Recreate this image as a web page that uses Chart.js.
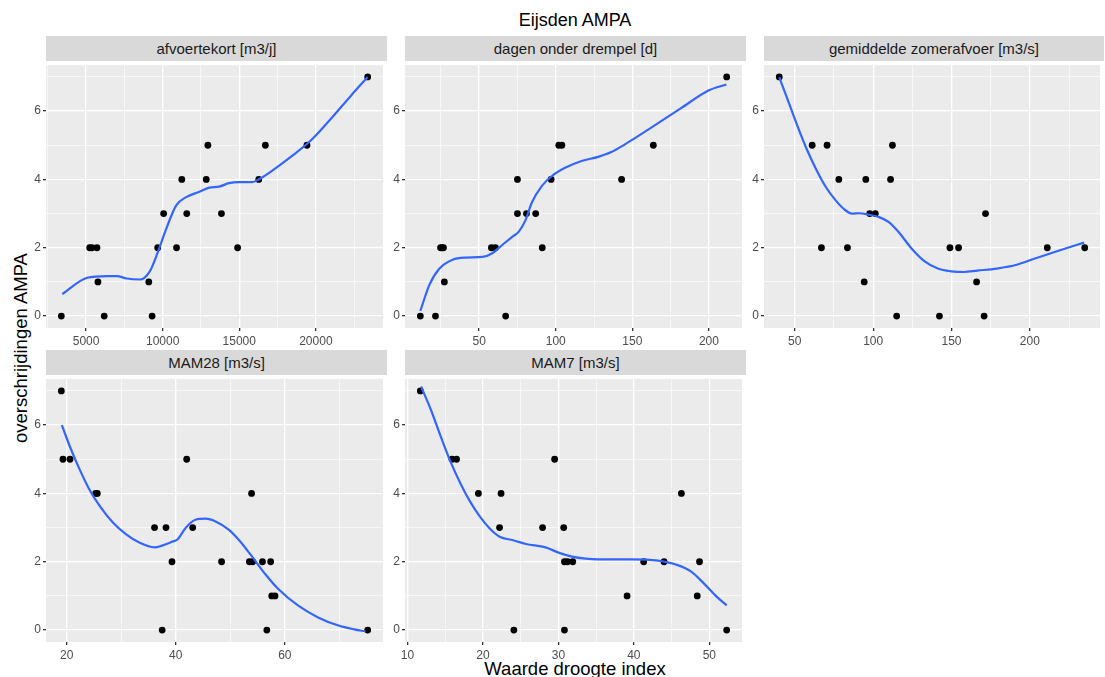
<!DOCTYPE html>
<html>
<head>
<meta charset="utf-8">
<script src="https://cdn.jsdelivr.net/npm/chart.js@4.4.1/dist/chart.umd.min.js"></script>
<style>
  body { margin: 0; background: #fff; width: 1105px; height: 677px; position: relative; overflow: hidden;
         font-family: "Liberation Sans", Arial, sans-serif; }
  canvas { position: absolute; }
  .strip { position: absolute; background: #d9d9d9; color: #1a1a1a; font-size: 15px;
           text-align: center; height: 25px; line-height: 25px; }
  .lbl { position: absolute; text-align: center; color: #000; line-height: 20px; white-space: nowrap; }
</style>
</head>
<body>
<div class="lbl" style="top:10px;left:46px;width:1058px;font-size:18px">Eijsden AMPA</div>
<div class="lbl" style="top:659px;left:46px;width:1058px;font-size:18.5px">Waarde droogte index</div>
<div class="lbl" style="left:-89px;top:338px;width:220px;font-size:18.5px;transform:rotate(-90deg)">overschrijdingen AMPA</div>

<script>
// afvoertekort [m3/j]
const afvoerX = [3384, 5237, 5388, 5711, 5776, 6185, 9094, 9310, 9676, 10064, 10905, 11250, 11573, 12844, 12952, 13836, 14891, 16271, 16702, 19417, 23382];
const afvoerY = [0, 2, 2, 2, 1, 0, 1, 0, 2, 3, 2, 4, 3, 4, 5, 3, 2, 4, 5, 5, 7];
const afvoerFitX = [3448, 5065, 6358, 7004, 7651, 8513, 9159, 9698, 10237, 10883, 11530, 12392, 13038, 13684, 14330, 14977, 15839, 16270, 17132, 18425, 19718, 21011, 22304, 23382];
const afvoerFitY = [0.64, 1.12, 1.17, 1.17, 1.10, 1.07, 1.31, 1.89, 2.56, 3.24, 3.48, 3.64, 3.76, 3.79, 3.89, 3.92, 3.92, 4.0, 4.25, 4.68, 5.16, 5.79, 6.46, 7.0];
const afvoerTicks = [5000, 10000, 15000, 20000];

// dagen onder drempel [d]
const dagenX = [11.6, 21.5, 24.8, 25.8, 26.7, 27.3, 58.0, 60.6, 67.3, 75.0, 75.0, 80.9, 86.9, 91.2, 97.0, 102.0, 104.0, 143.0, 163.7, 211.6];
const dagenY = [0, 0, 2, 2, 2, 1, 2, 2, 0, 4, 3, 3, 3, 2, 4, 5, 5, 4, 5, 7];
const dagenFitX = [11.6, 17.6, 24.1, 32.7, 41.4, 52.2, 58.6, 65.1, 71.6, 75.9, 80.2, 84.5, 91.0, 97.5, 106.1, 116.9, 127.7, 136.3, 144.9, 160.1, 181.6, 200, 211.4];
const dagenFitY = [0.15, 0.92, 1.39, 1.65, 1.71, 1.73, 1.84, 2.08, 2.32, 2.47, 2.80, 3.33, 3.81, 4.10, 4.34, 4.54, 4.66, 4.80, 5.02, 5.45, 6.08, 6.61, 6.78];
const dagenTicks = [50, 100, 150, 200];

// gemiddelde zomerafvoer [m3/s]
const zomerX = [40.1, 61.1, 70.6, 67.0, 78.1, 83.6, 94.3, 95.3, 97.8, 101.4, 111.1, 112.3, 115.0, 142.3, 149.0, 154.5, 166.0, 170.8, 171.7, 211.1, 235.0];
const zomerY = [7, 5, 5, 2, 4, 2, 1, 4, 3, 3, 4, 5, 0, 0, 2, 2, 1, 0, 3, 2, 2];
const zomerFitX = [40.1, 44.8, 51.0, 57.3, 63.6, 69.9, 76.2, 82.5, 86.7, 90.9, 97.2, 103.5, 109.8, 116.1, 124.5, 132.9, 141.3, 149.7, 158.0, 166.4, 179.0, 191.6, 204.2, 216.8, 234.6];
const zomerFitY = [6.99, 6.42, 5.65, 4.92, 4.30, 3.77, 3.38, 3.09, 3.00, 3.01, 2.97, 2.90, 2.76, 2.47, 1.98, 1.60, 1.39, 1.31, 1.29, 1.33, 1.39, 1.50, 1.70, 1.89, 2.15];
const zomerTicks = [50, 100, 150, 200];

// MAM28 [m3/s]
const mam28X = [19.0, 19.3, 20.6, 25.3, 25.6, 36.1, 38.2, 37.5, 39.3, 42.0, 43.1, 48.4, 53.5, 54.1, 53.9, 55.9, 57.4, 57.6, 58.2, 56.7, 75.2];
const mam28Y = [7, 5, 5, 4, 4, 3, 3, 0, 2, 5, 3, 2, 2, 2, 4, 2, 2, 1, 1, 0, 0];
const mam28FitX = [19.1, 20.6, 22.4, 24.2, 26.1, 28.5, 30.9, 33.3, 36.1, 37.6, 39.4, 40.3, 41.8, 43.6, 45.5, 47.3, 49.7, 51.5, 53.9, 56.4, 58.8, 62.4, 66.1, 69.7, 72.7, 74.8];
const mam28FitY = [6.0, 5.36, 4.69, 4.10, 3.62, 3.14, 2.80, 2.56, 2.42, 2.48, 2.59, 2.65, 2.99, 3.23, 3.26, 3.18, 2.94, 2.65, 2.17, 1.64, 1.20, 0.72, 0.37, 0.14, 0.02, -0.04];
const mam28Ticks = [20, 40, 60];

// MAM7 [m3/s]
const mam7X = [11.7, 15.9, 16.5, 19.4, 22.4, 22.2, 24.1, 27.9, 29.5, 30.7, 30.8, 30.8, 31.2, 31.9, 39.1, 41.3, 44.0, 46.3, 48.4, 48.7, 52.3];
const mam7Y = [7, 5, 5, 4, 4, 3, 0, 3, 5, 3, 0, 2, 2, 2, 1, 2, 2, 4, 1, 2, 0];
const mam7FitX = [11.8, 13.1, 14.4, 15.7, 17.0, 18.3, 19.6, 20.9, 22.2, 24.0, 25.7, 28.3, 30.1, 31.8, 33.6, 35.3, 39.7, 43.2, 45.8, 47.6, 49.3, 51.0, 52.3];
const mam7FitY = [7.13, 6.45, 5.67, 4.93, 4.30, 3.76, 3.32, 2.97, 2.73, 2.63, 2.52, 2.42, 2.26, 2.15, 2.09, 2.07, 2.07, 2.03, 1.90, 1.71, 1.36, 0.97, 0.72];
const mam7Ticks = [10, 20, 30, 40, 50];

const yTicks = [0, 2, 4, 6];
const yMin = 0, yMax = 7;

const panels = [
  { title: 'afvoertekort [m3/j]', x: afvoerX, y: afvoerY, fx: afvoerFitX, fy: afvoerFitY, ticks: afvoerTicks, left: 46, top: 61, w: 341, h: 267 },
  { title: 'dagen onder drempel [d]', x: dagenX, y: dagenY, fx: dagenFitX, fy: dagenFitY, ticks: dagenTicks, left: 405, top: 61, w: 341, h: 267 },
  { title: 'gemiddelde zomerafvoer [m3/s]', x: zomerX, y: zomerY, fx: zomerFitX, fy: zomerFitY, ticks: zomerTicks, left: 764, top: 61, w: 340, h: 267 },
  { title: 'MAM28 [m3/s]', x: mam28X, y: mam28Y, fx: mam28FitX, fy: mam28FitY, ticks: mam28Ticks, left: 46, top: 375, w: 341, h: 267 },
  { title: 'MAM7 [m3/s]', x: mam7X, y: mam7Y, fx: mam7FitX, fy: mam7FitY, ticks: mam7Ticks, left: 405, top: 375, w: 341, h: 267 }
];

const AXW = 30, AXH = 24;
const font = { family: '"Liberation Sans", Arial, sans-serif', size: 12 };

const panelBg = {
  id: 'panelBg',
  beforeDraw(chart) {
    const a = chart.chartArea, c = chart.ctx;
    c.save();
    c.fillStyle = '#ebebeb';
    c.fillRect(a.left, a.top, a.right - a.left, a.bottom - a.top);
    c.restore();
  }
};

// major ticks plus ggplot-style minor breaks half way between them
function withMinor(major, lo, hi) {
  const half = (major[1] - major[0]) / 2;
  const out = [];
  for (let v = major[0] - half; v <= major[major.length - 1] + half + 1e-9; v += half) {
    if (v >= lo && v <= hi) out.push(v);
  }
  return out;
}

function axisOpts(major, lo, hi, isX) {
  const major_ = v => major.some(m => Math.abs(m - v) < 1e-9);
  return {
    type: 'linear',
    min: lo,
    max: hi,
    border: { display: false },
    grid: {
      color: '#fff',
      lineWidth: c => major_(c.tick.value) ? 1.3 : 0.6,
      tickLength: 3,
      tickColor: c => major_(c.tick.value) ? '#333' : 'rgba(0,0,0,0)'
    },
    ticks: {
      autoSkip: false,
      maxRotation: 0,
      color: '#4d4d4d',
      font: font,
      padding: isX ? 3 : 2,
      callback: v => major_(v) ? String(v) : ''
    },
    afterBuildTicks: s => { s.ticks = withMinor(major, lo, hi).map(v => ({ value: v })); },
    afterFit: s => {
      if (isX) { s.height = AXH; s.paddingLeft = 0; s.paddingRight = 0; }
      else { s.width = AXW; s.paddingTop = 0; s.paddingBottom = 0; }
    }
  };
}

panels.forEach(p => {
  const strip = document.createElement('div');
  strip.className = 'strip';
  strip.style.left = p.left + 'px';
  strip.style.top = (p.top - 25) + 'px';
  strip.style.width = p.w + 'px';
  strip.textContent = p.title;
  document.body.appendChild(strip);

  const cv = document.createElement('canvas');
  cv.width = p.w + AXW;
  cv.height = p.h + AXH;
  cv.style.left = (p.left - AXW) + 'px';
  cv.style.top = p.top + 'px';
  document.body.appendChild(cv);

  const lo = Math.min(...p.x), hi = Math.max(...p.x);
  const pad = (hi - lo) * 0.05;
  const ypad = (yMax - yMin) * 0.05;

  new Chart(cv, {
    type: 'scatter',
    data: {
      datasets: [
        {
          data: p.fx.map((x, k) => ({ x: x, y: p.fy[k] })),
          showLine: true,
          borderColor: '#3366FF',
          borderWidth: 2.2,
          pointRadius: 0,
          cubicInterpolationMode: 'monotone',
          fill: false
        },
        {
          data: p.x.map((x, k) => ({ x: x, y: p.y[k] })),
          pointRadius: 3.4,
          pointBackgroundColor: '#000',
          pointBorderWidth: 0
        }
      ]
    },
    options: {
      responsive: false,
      animation: false,
      devicePixelRatio: 1,
      layout: { padding: 0 },
      plugins: { legend: { display: false }, tooltip: { enabled: false } },
      scales: {
        x: axisOpts(p.ticks, lo - pad, hi + pad, true),
        y: axisOpts(yTicks, yMin - ypad, yMax + ypad, false)
      }
    },
    plugins: [panelBg]
  });
});
</script>
</body>
</html>
